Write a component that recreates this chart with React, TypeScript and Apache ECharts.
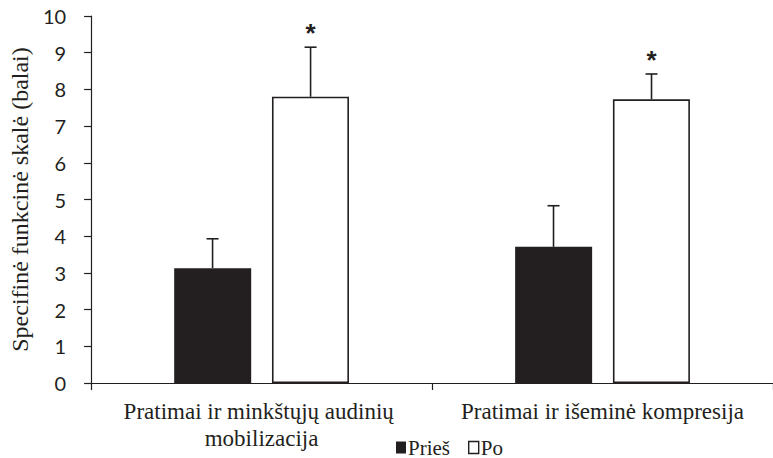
import React, { useEffect, useRef } from "react";
import * as echarts from "echarts";

const categories = ["Pratimai ir minkštųjų audinių mobilizacija", "Pratimai ir išeminė kompresija"];
const seriesNames = ["Prieš", "Po"];
const priesValues = [3.13, 3.71];
const priesSD = [0.8, 1.12];
const poValues = [7.8, 7.73];
const poSD = [1.35, 0.69];
const poMarks = ["*", "*"];
const yTicks = [0, 1, 2, 3, 4, 5, 6, 7, 8, 9, 10];

const INK = "#231f20";
const SERIF = "Liberation Serif";
const SANS = "Lato";

export default function App() {
  const ref = useRef<HTMLDivElement>(null);
  useEffect(() => {
    if (!ref.current) return;
    const chart = echarts.init(ref.current, undefined, { renderer: "svg" });
    const offset = 49;
    const errData = (vals: number[], sds: number[], marks: string[] | null) =>
      vals.map((v, i) => ({ value: [i, v, v + sds[i]], mark: marks ? marks[i] : "" }));
    const makeErr = (vals: number[], sds: number[], marks: string[] | null, dir: number) => {
      const items = errData(vals, sds, marks);
      return {
        type: "custom",
        silent: true,
        z: 5,
        data: items,
        renderItem: (params: any, api: any) => {
          const base = api.coord([api.value(0), api.value(1)]);
          const top = api.coord([api.value(0), api.value(2)]);
          const x = base[0] + dir * offset;
          const item = items[params.dataIndex];
          const children: any[] = [
            { type: "line", shape: { x1: x, y1: base[1], x2: x, y2: top[1] }, style: { stroke: INK, lineWidth: 1.6 } },
            { type: "line", shape: { x1: x - 6, y1: top[1], x2: x + 6, y2: top[1] }, style: { stroke: INK, lineWidth: 1.6 } },
          ];
          if (item.mark) {
            children.push({
              type: "text",
              x: x,
              y: top[1] - 14,
              style: { text: item.mark, fill: INK, font: "bold 26px sans-serif", align: "center", verticalAlign: "middle" },
            });
          }
          return { type: "group", children };
        },
      };
    };
    chart.setOption({
      animation: false,
      textStyle: { fontFamily: SERIF },
      grid: { left: 89, top: 16, width: 698, height: 367, containLabel: false },
      legend: {
        data: [
          { name: seriesNames[0], itemStyle: { color: INK, borderColor: INK, borderWidth: 0 } },
          { name: seriesNames[1], itemStyle: { color: "#ffffff", borderColor: INK, borderWidth: 1.4 } },
        ],
        left: 396,
        top: 437,
        icon: "rect",
        itemWidth: 10,
        itemHeight: 12,
        itemGap: 18,
        padding: 0,
        textStyle: { fontFamily: SERIF, fontSize: 21, lineHeight: 20, color: INK, padding: [0, 0, 0, -3] },
      },
      xAxis: {
        type: "category",
        data: categories,
        axisLine: { lineStyle: { color: INK, width: 1.2 } },
        axisTick: { show: true, length: 7, lineStyle: { color: INK, width: 1.2 } },
        axisLabel: {
          fontFamily: SERIF,
          fontSize: 23,
          color: INK,
          margin: 15,
          lineHeight: 27,
          width: 330,
          overflow: "break",
          interval: 0,
        },
      },
      yAxis: {
        type: "value",
        min: yTicks[0],
        max: yTicks[yTicks.length - 1],
        interval: 1,
        name: "Specifinė funkcinė skalė (balai)",
        nameLocation: "middle",
        nameGap: 57,
        nameTextStyle: { fontFamily: SERIF, fontSize: 24, color: INK },
        axisLine: { show: true, lineStyle: { color: INK, width: 1.2 } },
        axisTick: { show: true, length: 7, lineStyle: { color: INK, width: 1.2 } },
        splitLine: { show: false },
        axisLabel: { fontFamily: SANS, fontSize: 20, color: INK, margin: 25 },
      },
      series: [
        {
          name: seriesNames[0],
          type: "bar",
          data: priesValues,
          barWidth: 77,
          barGap: "27%",
          itemStyle: { color: INK },
        },
        {
          name: seriesNames[1],
          type: "bar",
          data: poValues,
          barWidth: 77,
          itemStyle: { color: "#ffffff", borderColor: INK, borderWidth: 1.6 },
        },
        makeErr(priesValues, priesSD, null, -1),
        makeErr(poValues, poSD, poMarks, 1),
      ],
    });
    return () => chart.dispose();
  }, []);
  return <div ref={ref} style={{ position: "fixed", left: 0, top: 0, width: 773, height: 458, background: "#fff" }} />;
}
